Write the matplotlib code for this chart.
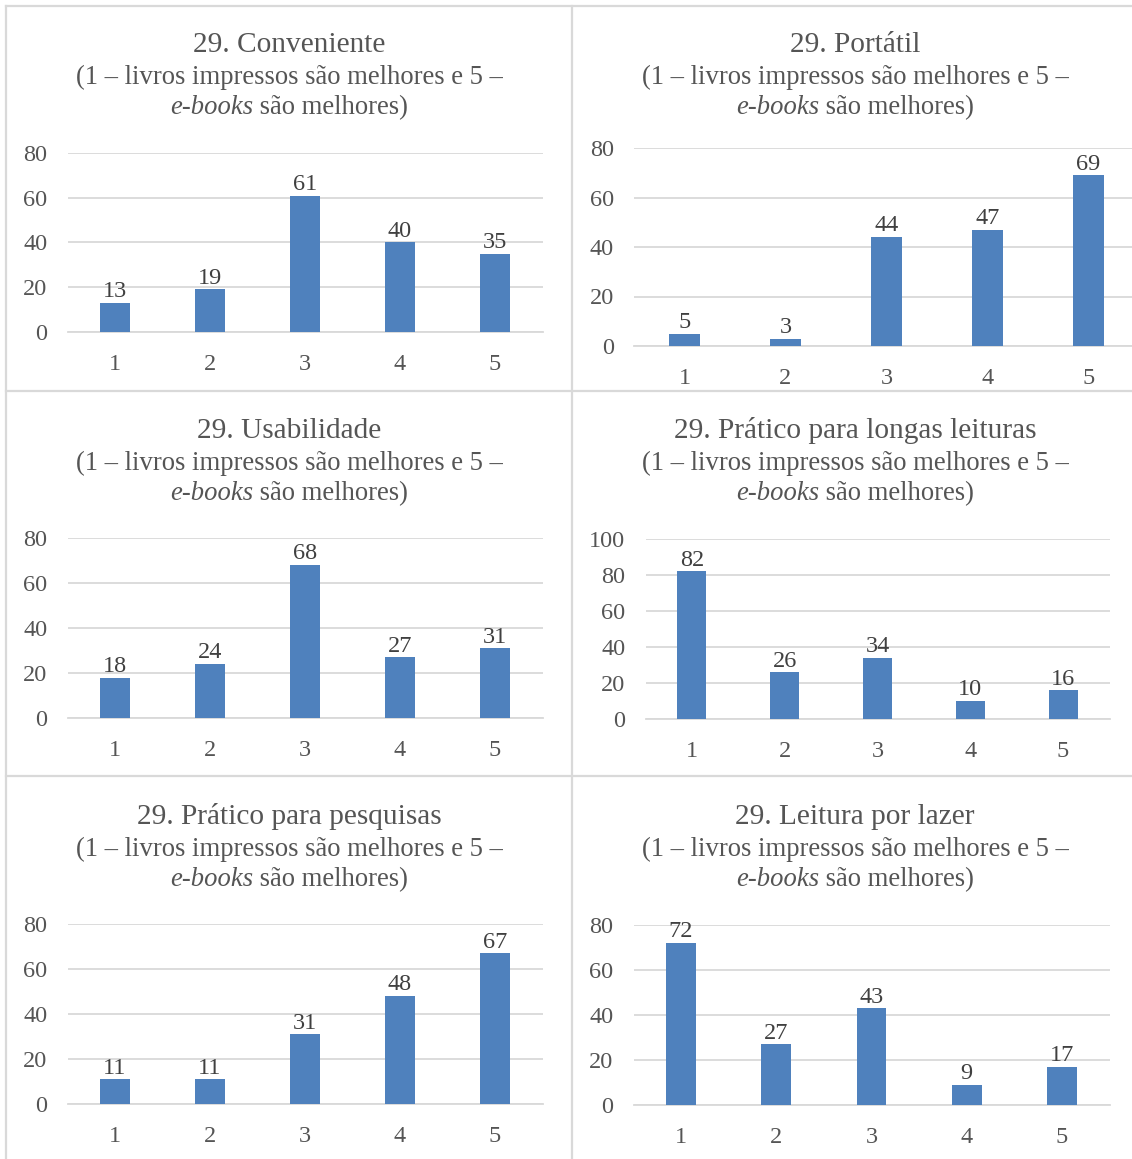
import matplotlib
matplotlib.use("Agg")
import matplotlib.pyplot as plt
from matplotlib.lines import Line2D

plt.rcParams["font.family"] = ["Liberation Serif", "DejaVu Serif"]

W, H, DPI = 1132, 1159, 100

# ---- data ----
categories = ["1", "2", "3", "4", "5"]
titles = [
    "29. Conveniente",
    "29. Portátil",
    "29. Usabilidade",
    "29. Prático para longas leituras",
    "29. Prático para pesquisas",
    "29. Leitura por lazer",
]
conveniente = [13, 19, 61, 40, 35]
portatil = [5, 3, 44, 47, 69]
usabilidade = [18, 24, 68, 27, 31]
longas_leituras = [82, 26, 34, 10, 16]
pesquisas = [11, 11, 31, 48, 67]
lazer = [72, 27, 43, 9, 17]
y_limits = [80, 80, 80, 100, 80, 80]
subtitle_line1 = "(1 – livros impressos são melhores e 5 –"
subtitle_italic = "e-books"
subtitle_rest = " são melhores)"

series = [conveniente, portatil, usabilidade, longas_leituras, pesquisas, lazer]

# ---- styling ----
BAR = "#4F81BD"
GRID = "#D9D9D9"
TXT = "#555555"
LBL = "#404040"
FS_TITLE = 21.2
FS_SUB = 19.2
FS_TICK = 17.5

# axes boxes in pixels: (left, right, top, bottom)
boxes = [
    (67.5, 542.5, 153, 332),
    (634, 1139, 148, 346),
    (67.5, 542.5, 538, 718),
    (645.5, 1109.5, 539, 719),
    (67.5, 542.5, 924, 1104),
    (633.5, 1109.5, 925, 1105),
]
# title block: (center x, title y, subtitle line1 y, subtitle line2 y) in pixels
title_pos = [
    (289, 44.5, 77, 107.5),
    (855, 44.5, 77, 107.5),
    (289, 430.5, 463, 493.5),
    (855, 431, 463, 493.5),
    (289, 816.5, 849, 879.5),
    (855, 816.5, 849, 879.5),
]

fig = plt.figure(figsize=(W / DPI, H / DPI), dpi=DPI)
fig.patch.set_facecolor("white")


def fx(px):
    return px / W


def fy(py):
    return 1 - py / H


# panel borders
border_kw = dict(color=GRID, lw=1.6, transform=fig.transFigure)
for ypx in (5.5, 390.5, 775.5):
    fig.add_artist(Line2D([fx(6), 1], [fy(ypx), fy(ypx)], **border_kw))
for xpx in (6, 572):
    fig.add_artist(Line2D([fx(xpx), fx(xpx)], [fy(5.5), 0], **border_kw))

italic_pairs = []
for i, (vals, ymax) in enumerate(zip(series, y_limits)):
    l, r, t, b = boxes[i]
    ax = fig.add_axes([fx(l), fy(b), fx(r) - fx(l), (b - t) / H])
    x = list(range(len(categories)))
    bars = ax.bar(x, vals, width=0.313, color=BAR, zorder=3)
    ax.set_xlim(-0.5, len(categories) - 0.5)
    ax.set_ylim(0, ymax)
    ax.set_yticks(range(0, ymax + 1, 20))
    ax.set_xticks(x)
    ax.set_xticklabels(categories)
    ax.grid(axis="y", color=GRID, lw=1.3, zorder=0)
    ax.set_axisbelow(True)
    for s in ("top", "right", "left"):
        ax.spines[s].set_visible(False)
    ax.spines["bottom"].set_color(GRID)
    ax.spines["bottom"].set_linewidth(1.3)
    ax.tick_params(axis="both", length=0, labelsize=FS_TICK, colors=TXT)
    ax.tick_params(axis="y", pad=14.5)
    ax.tick_params(axis="x", pad=15.8)
    ax.patch.set_alpha(0)
    for rect, v in zip(bars, vals):
        ax.annotate(str(v), (rect.get_x() + rect.get_width() / 2, v),
                    xytext=(0, 0.5), textcoords="offset points",
                    ha="center", va="bottom", fontsize=FS_TICK, color=LBL,
                    zorder=4)

    cx, ty, s1y, s2y = title_pos[i]
    fig.text(fx(cx), fy(ty), titles[i], ha="center", va="center",
             fontsize=FS_TITLE, color=TXT)
    fig.text(fx(cx), fy(s1y), subtitle_line1, ha="center", va="center",
             fontsize=FS_SUB, color=TXT)
    t_it = fig.text(fx(cx), fy(s2y), subtitle_italic, ha="left", va="center",
                    fontsize=FS_SUB, color=TXT, style="italic")
    t_rm = fig.text(fx(cx), fy(s2y), subtitle_rest, ha="left", va="center",
                    fontsize=FS_SUB, color=TXT)
    italic_pairs.append((cx, t_it, t_rm))

# centre each mixed italic/regular subtitle line as one unit
fig.canvas.draw()
renderer = fig.canvas.get_renderer()
for cx, t_it, t_rm in italic_pairs:
    w_it = t_it.get_window_extent(renderer).width
    w_rm = t_rm.get_window_extent(renderer).width
    start = cx - (w_it + w_rm) / 2
    x0, y0 = t_it.get_position()
    t_it.set_position((fx(start), y0))
    t_rm.set_position((fx(start + w_it), y0))

fig.savefig("out.png", dpi=DPI, facecolor="white")
